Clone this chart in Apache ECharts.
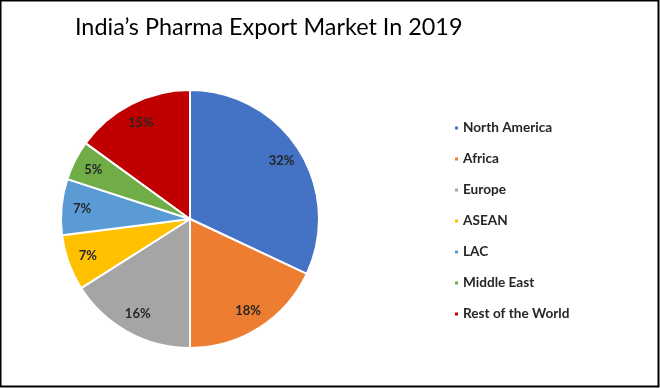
<!DOCTYPE html>
<html>
<head>
<meta charset="utf-8">
<script src="https://cdn.jsdelivr.net/npm/echarts@6/dist/echarts.min.js"></script>
<style>
html,body{margin:0;padding:0;background:#fff;}
#chart{width:660px;height:388px;}
</style>
</head>
<body>
<div id="chart"></div>
<script>
const categories = ["North America","Africa","Europe","ASEAN","LAC","Middle East","Rest of the World"];
const shares = [32, 18, 16, 7, 7, 5, 15];
const colors = ["#4472C4","#ED7D31","#A5A5A5","#FFC000","#5B9BD5","#70AD47","#C00000"];
const titleText = "India\u2019s Pharma Export Market In 2019";

const data = categories.map((c, i) => ({ name: c, value: shares[i], itemStyle: { color: colors[i] } }));
const labelData = categories.map((c, i) => ({ name: c, value: shares[i] }));

const chart = echarts.init(document.getElementById('chart'), null, { renderer: 'canvas' });
chart.setOption({
  animation: false,
  backgroundColor: '#fff',
  title: {
    text: titleText,
    left: 70,
    top: 11,
    textStyle: { fontFamily: 'Lato', fontSize: 23.4, fontWeight: 'normal', color: '#000' }
  },
  legend: {
    orient: 'vertical',
    left: 448,
    top: 116,
    data: categories,
    icon: 'rect',
    itemWidth: 5,
    itemHeight: 5,
    itemGap: 17,
    textStyle: { fontFamily: 'Lato', fontSize: 13.6, fontWeight: 'bold', color: '#262626', lineHeight: 14, padding: [0,0,0,-1] }
  },
  graphic: [{
    type: 'rect',
    shape: { x: 0.5, y: 0.5, width: 658, height: 386 },
    style: { fill: 'none', stroke: '#000', lineWidth: 2 },
    silent: true, z: 100
  }],
  series: [
    {
      type: 'pie',
      center: [190, 219],
      radius: [0, 129],
      startAngle: 90,
      clockwise: true,
      data: data,
      label: { show: false },
      labelLine: { show: false },
      itemStyle: { borderColor: '#fff', borderWidth: 2 },
      emphasis: { disabled: true }
    },
    {
      type: 'pie',
      center: [190, 219],
      radius: [82, 129],
      startAngle: 90,
      clockwise: true,
      silent: true,
      data: labelData,
      itemStyle: { color: 'rgba(0,0,0,0)' },
      label: {
        show: true,
        position: 'inside',
        formatter: '{c}%',
        fontFamily: 'Lato',
        fontSize: 13,
        fontWeight: 'bold',
        color: '#262626'
      },
      labelLine: { show: false },
      emphasis: { disabled: true }
    }
  ]
});
</script>
</body>
</html>
